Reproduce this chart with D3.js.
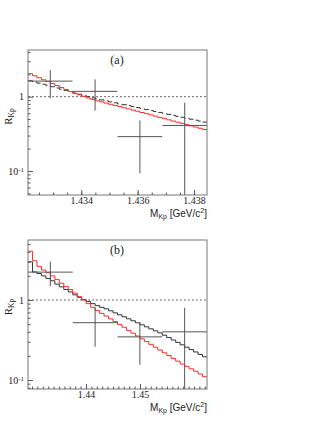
<!DOCTYPE html>
<html>
<head>
<meta charset="utf-8">
<script src="https://cdn.jsdelivr.net/npm/d3@7"></script>
<style>
body { margin: 0; background: #fff; }
</style>
</head>
<body>
<div id="chart"></div>
<script>
var width = 332;
var height = 430;

// ---- panel (a) data ----
var aMass = [1.43211, 1.43846];
var aRange = [0.0475, 4.25];
var aTicks = [1.434, 1.436, 1.438];
var aMinorStep = 0.0005;
var aRed = [2.04, 1.91, 1.80, 1.69, 1.60, 1.50, 1.41, 1.33, 1.25, 1.17,
            1.11, 1.06, 1.01, 0.96, 0.92, 0.88, 0.85, 0.82, 0.79, 0.76,
            0.74, 0.71, 0.685, 0.66, 0.637, 0.612, 0.59, 0.568, 0.547, 0.525,
            0.506, 0.488, 0.47, 0.453, 0.437, 0.42, 0.405, 0.39, 0.376, 0.362];
var aBlack = [1.64, 1.58, 1.52, 1.47, 1.42, 1.36, 1.31, 1.26, 1.22, 1.17,
              1.12, 1.08, 1.04, 1.0, 0.965, 0.935, 0.905, 0.878, 0.852, 0.828,
              0.80, 0.78, 0.757, 0.735, 0.713, 0.69, 0.67, 0.65, 0.632, 0.614,
              0.596, 0.578, 0.561, 0.544, 0.528, 0.513, 0.498, 0.483, 0.469, 0.455];
var aPointM = [1.43290, 1.43449, 1.43608, 1.43767];
var aPointHalf = 0.00079;
var aPointR = [1.62, 1.18, 0.29, 0.41];
var aPointLo = [0.95, 0.65, 0.093, 0.001];
var aPointHi = [2.28, 1.71, 0.48, 0.83];

// ---- panel (b) data ----
var bMass = [1.42926, 1.46241];
var bRange = [0.0772, 5.62];
var bTicks = [1.44, 1.45];
var bMinorStep = 0.001;
var bRed = [4.07, 3.09, 2.63, 2.37, 2.19, 2.0, 1.80, 1.62, 1.48, 1.35,
            1.22, 1.10, 1.0, 0.90, 0.81, 0.74, 0.68, 0.63, 0.58, 0.537,
            0.495, 0.457, 0.417, 0.385, 0.355, 0.327, 0.302, 0.279, 0.257, 0.237,
            0.219, 0.202, 0.186, 0.172, 0.158, 0.148, 0.138, 0.129, 0.119, 0.11];
var bBlack = [3.0, 2.24, 2.14, 2.0, 1.86, 1.74, 1.58, 1.46, 1.35, 1.26,
              1.16, 1.08, 1.01, 0.955, 0.90, 0.85, 0.81, 0.776, 0.733, 0.69,
              0.653, 0.617, 0.582, 0.55, 0.519, 0.49, 0.462, 0.436, 0.412, 0.389,
              0.363, 0.339, 0.316, 0.295, 0.275, 0.257, 0.24, 0.224, 0.209, 0.195];
var bPointM = [1.43340, 1.44169, 1.44998, 1.45827];
var bPointHalf = 0.00414;
var bPointR = [2.23, 0.52, 0.346, 0.40];
var bPointLo = [1.49, 0.26, 0.155, 0.001];
var bPointHi = [3.01, 0.80, 0.52, 0.80];

var svg = d3.select('#chart').append('svg')
    .attr('width', width)
    .attr('height', height);

function drawPanel(p) {
    var x = d3.scaleLinear().domain(p.mass).range([28, 207]);
    var y = d3.scaleLog().domain(p.range).range([p.bottom, p.top]);

    var g = svg.append('g');

    // clip so curves and error bars stay in the frame
    var clipId = 'clip' + p.label;
    g.append('clipPath').attr('id', clipId)
        .append('rect')
        .attr('x', 28).attr('y', p.top)
        .attr('width', 179).attr('height', p.bottom - p.top);

    // y = 1 reference line
    g.append('line')
        .attr('x1', 28).attr('x2', 207)
        .attr('y1', y(1)).attr('y2', y(1))
        .attr('stroke', '#444')
        .attr('stroke-width', 0.8)
        .attr('stroke-dasharray', '2,2');

    // step histograms
    var n = p.red.length;
    var step = (p.mass[1] - p.mass[0]) / n;
    function stepPts(vals) {
        var pts = vals.map((v, i) => [p.mass[0] + i * step, v]);
        pts.push([p.mass[1], vals[n - 1]]);
        return pts;
    }
    var line = d3.line()
        .x(d => x(d[0]))
        .y(d => y(d[1]))
        .curve(d3.curveStepAfter);

    var curves = g.append('g').attr('clip-path', `url(#${clipId})`);

    curves.append('path')
        .attr('d', line(stepPts(p.black)))
        .attr('fill', 'none')
        .attr('stroke', '#333')
        .attr('stroke-width', 1)
        .attr('stroke-dasharray', p.dashed ? '6,3' : null);

    curves.append('path')
        .attr('d', line(stepPts(p.red)))
        .attr('fill', 'none')
        .attr('stroke', '#ff2a2a')
        .attr('stroke-width', 1);

    // data points with error bars
    var pts = curves.selectAll('g.pt')
        .data(p.ptM.map((m, i) => ({m: m, r: p.ptR[i], lo: p.ptLo[i], hi: p.ptHi[i]})))
        .enter().append('g');
    pts.append('line')
        .attr('x1', d => x(d.m - p.half))
        .attr('x2', d => x(d.m + p.half))
        .attr('y1', d => y(d.r)).attr('y2', d => y(d.r))
        .attr('stroke', '#555').attr('stroke-width', 1);
    pts.append('line')
        .attr('x1', d => x(d.m)).attr('x2', d => x(d.m))
        .attr('y1', d => y(Math.max(d.lo, p.range[0] * 0.5)))
        .attr('y2', d => y(d.hi))
        .attr('stroke', '#555').attr('stroke-width', 1);

    // frame
    g.append('rect')
        .attr('x', 28).attr('y', p.top)
        .attr('width', 179).attr('height', p.bottom - p.top)
        .attr('fill', 'none')
        .attr('stroke', '#777')
        .attr('stroke-width', 1);

    // x axis: major + minor ticks pointing inside
    var minor = d3.range(Math.ceil(p.mass[0] / p.minorStep) * p.minorStep, p.mass[1], p.minorStep);
    g.append('g')
        .attr('transform', `translate(0, ${p.bottom})`)
        .call(d3.axisBottom(x).tickValues(minor).tickSize(-2.5).tickFormat(''))
        .call(a => a.select('.domain').remove())
        .selectAll('line').attr('stroke', '#555');
    var xAxis_g = g.append('g')
        .attr('transform', `translate(0, ${p.bottom})`)
        .call(d3.axisBottom(x).tickValues(p.ticks).tickSize(-5).tickPadding(2)
            .tickFormat(d3.format(p.fmt)));
    xAxis_g.select('.domain').remove();
    xAxis_g.selectAll('line').attr('stroke', '#555');
    xAxis_g.selectAll('text')
        .style('font-family', '"Liberation Serif", "Times New Roman", serif')
        .style('font-size', '10px')
        .attr('fill', '#222');

    // y axis: log ticks
    var yMinor = [];
    [0.01, 0.1, 1].forEach(dec => {
        for (var k = 2; k <= 9; k++) {
            var v = dec * k;
            if (v > p.range[0] && v < p.range[1]) yMinor.push(v);
        }
    });
    g.append('g')
        .attr('transform', 'translate(28, 0)')
        .call(d3.axisLeft(y).tickValues(yMinor).tickSize(-2.5).tickFormat(''))
        .call(a => a.select('.domain').remove())
        .selectAll('line').attr('stroke', '#555');
    var yAxis_g = g.append('g')
        .attr('transform', 'translate(28, 0)')
        .call(d3.axisLeft(y).tickValues([0.1, 1]).tickSize(-5).tickPadding(4).tickFormat(''));
    yAxis_g.select('.domain').remove();
    yAxis_g.selectAll('line').attr('stroke', '#555');
    yAxis_g.selectAll('.tick text').each(function (d) {
        var t = d3.select(this)
            .style('font-family', '"Liberation Serif", "Times New Roman", serif')
            .style('font-size', '10px')
            .attr('fill', '#222');
        if (d === 1) {
            t.text('1');
        } else {
            t.append('tspan').text('10');
            t.append('tspan').attr('dy', '-0.4em').style('font-size', '7px').text('-1');
        }
    });

    // panel tag
    g.append('text')
        .attr('x', 117).attr('y', p.top + 14)
        .attr('text-anchor', 'middle')
        .style('font-family', '"Liberation Serif", "Times New Roman", serif')
        .style('font-size', '12px')
        .attr('fill', '#222')
        .text(`(${p.label})`);

    // y title R_Kp
    var yt = g.append('text')
        .attr('transform', `translate(12, ${p.ytitle}) rotate(-90)`)
        .attr('text-anchor', 'middle')
        .style('font-family', '"Liberation Serif", "Times New Roman", serif')
        .style('font-size', '11px')
        .attr('fill', '#222');
    yt.append('tspan').text('R');
    yt.append('tspan').attr('dy', '2').style('font-size', '7.5px').text('Kp');

    // x title M_Kp [GeV/c^2]
    var xt = g.append('text')
        .attr('x', 207).attr('y', p.bottom + 22)
        .attr('text-anchor', 'end')
        .style('font-family', '"Liberation Sans", Arial, sans-serif')
        .style('font-size', '10px')
        .attr('fill', '#222');
    xt.append('tspan').text('M');
    xt.append('tspan').attr('dy', '2').style('font-size', '7px').text('Kp');
    xt.append('tspan').attr('dy', '-2').text(' [GeV/c');
    xt.append('tspan').attr('dy', '-4').style('font-size', '7px').text('2');
    xt.append('tspan').attr('dy', '4').text(']');
}

drawPanel({
    label: 'a', top: 50, bottom: 195, ytitle: 116.5, dashed: true,
    mass: aMass, range: aRange, ticks: aTicks, minorStep: aMinorStep, fmt: '.3f',
    red: aRed, black: aBlack,
    ptM: aPointM, half: aPointHalf, ptR: aPointR, ptLo: aPointLo, ptHi: aPointHi
});

drawPanel({
    label: 'b', top: 240, bottom: 389, ytitle: 307, dashed: false,
    mass: bMass, range: bRange, ticks: bTicks, minorStep: bMinorStep, fmt: '.2f',
    red: bRed, black: bBlack,
    ptM: bPointM, half: bPointHalf, ptR: bPointR, ptLo: bPointLo, ptHi: bPointHi
});
</script>
</body>
</html>
